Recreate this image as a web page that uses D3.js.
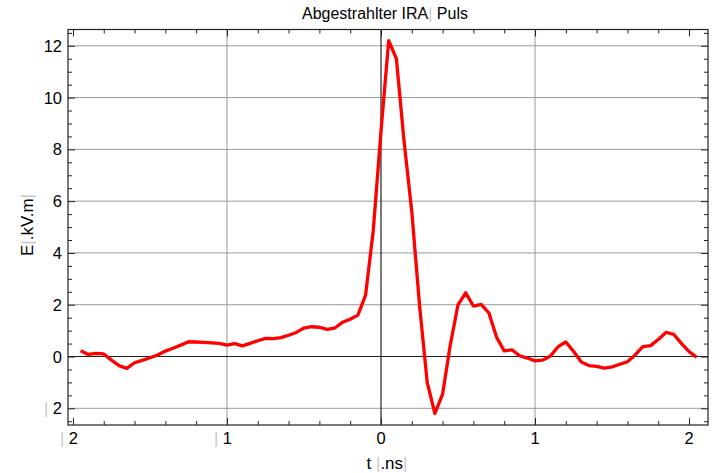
<!DOCTYPE html>
<html>
<head>
<meta charset="utf-8">
<script src="https://cdn.jsdelivr.net/npm/d3@7"></script>
<style>
  body { margin: 0; background: #fff; }
  svg text { font-family: "Liberation Sans", Arial, sans-serif; }
</style>
</head>
<body>
<svg id="chart" width="713" height="473"></svg>
<script>
// pulse samples, 0.05 ns apart
const times = [-1.95, -1.9, -1.85, -1.8, -1.75, -1.7, -1.65, -1.6, -1.55, -1.5,
  -1.45, -1.4, -1.35, -1.3, -1.25, -1.2, -1.15, -1.1, -1.05, -1.0,
  -0.95, -0.9, -0.85, -0.8, -0.75, -0.7, -0.65, -0.6, -0.55, -0.5,
  -0.45, -0.4, -0.35, -0.3, -0.25, -0.2, -0.15, -0.1, -0.05, 0.0,
  0.05, 0.1, 0.15, 0.2, 0.25, 0.3, 0.35, 0.4, 0.45, 0.5,
  0.55, 0.6, 0.65, 0.7, 0.75, 0.8, 0.85, 0.9, 0.95, 1.0,
  1.05, 1.1, 1.15, 1.2, 1.25, 1.3, 1.35, 1.4, 1.45, 1.5,
  1.55, 1.6, 1.65, 1.7, 1.75, 1.8, 1.85, 1.9, 1.95, 2.0, 2.05];
const field = [0.22, 0.08, 0.12, 0.10, -0.14, -0.35, -0.46, -0.24, -0.15, -0.05,
  0.06, 0.21, 0.32, 0.44, 0.57, 0.56, 0.55, 0.53, 0.51, 0.44,
  0.50, 0.41, 0.51, 0.61, 0.70, 0.69, 0.73, 0.82, 0.93, 1.10,
  1.15, 1.13, 1.05, 1.10, 1.32, 1.44, 1.60, 2.37, 4.88, 8.7,
  12.2, 11.5, 8.3, 5.6, 2.0, -1.0, -2.2, -1.45, 0.45, 2.0,
  2.46, 1.95, 2.01, 1.69, 0.75, 0.22, 0.26, 0.03, -0.06, -0.17,
  -0.14, 0.02, 0.38, 0.56, 0.2, -0.21, -0.35, -0.38, -0.45, -0.4,
  -0.3, -0.2, 0.06, 0.38, 0.42, 0.66, 0.93, 0.86, 0.51, 0.19, -0.03];

const xTicks = [-2, -1, 0, 1, 2];
const yTicks = [-2, 0, 2, 4, 6, 8, 10, 12];
const xGrid = [-1, 1];
const yGrid = [-2, 2, 4, 6, 8, 10, 12];

const svg = d3.select("#chart");
const fL = 68, fR = 708, fT = 29.5, fB = 425;

const x = d3.scaleLinear().domain([-2.032, 2.123]).range([fL, fR]);
const y = d3.scaleLinear().domain([-2.645, 12.63]).range([fB, fT]);

// gray bar stands in for the glyphs that did not render
function label(sel, parts) {
  parts.forEach(p => {
    sel.append("tspan").text(p[0]).attr("fill", p[1] ? "#c8c8c8" : "#000");
  });
}

// grid
svg.append("g").selectAll("line").data(xGrid).enter().append("line")
  .attr("x1", d => x(d)).attr("x2", d => x(d))
  .attr("y1", fT).attr("y2", fB)
  .attr("stroke", "#999").attr("stroke-width", 1);
svg.append("g").selectAll("line").data(yGrid).enter().append("line")
  .attr("x1", fL).attr("x2", fR)
  .attr("y1", d => y(d)).attr("y2", d => y(d))
  .attr("stroke", "#999").attr("stroke-width", 1);

// zero axes
svg.append("line").attr("x1", x(0)).attr("x2", x(0)).attr("y1", fT).attr("y2", fB)
  .attr("stroke", "#222").attr("stroke-width", 1.2);
svg.append("line").attr("x1", fL).attr("x2", fR).attr("y1", y(0)).attr("y2", y(0))
  .attr("stroke", "#222").attr("stroke-width", 1.2);

// frame ticks on all sides
const xMinor = d3.range(-2, 2.13, 0.2).filter(v => Math.abs(v - Math.round(v)) > 0.01);
const yMinor = d3.range(-2.5, 12.6, 0.5).filter(v => Math.abs(v / 2 - Math.round(v / 2)) > 0.01);

svg.append("g").attr("transform", `translate(0,${fB})`)
  .call(d3.axisTop(x).tickValues(xMinor).tickSize(4).tickFormat(""));
svg.append("g").attr("transform", `translate(0,${fB})`)
  .call(d3.axisTop(x).tickValues(xTicks).tickSize(7).tickFormat(""));
svg.append("g").attr("transform", `translate(0,${fT})`)
  .call(d3.axisBottom(x).tickValues(xMinor).tickSize(4).tickFormat(""));
svg.append("g").attr("transform", `translate(0,${fT})`)
  .call(d3.axisBottom(x).tickValues(xTicks).tickSize(7).tickFormat(""));
svg.append("g").attr("transform", `translate(${fL},0)`)
  .call(d3.axisRight(y).tickValues(yMinor).tickSize(4).tickFormat(""));
svg.append("g").attr("transform", `translate(${fL},0)`)
  .call(d3.axisRight(y).tickValues(yTicks).tickSize(7).tickFormat(""));
svg.append("g").attr("transform", `translate(${fR},0)`)
  .call(d3.axisLeft(y).tickValues(yMinor).tickSize(4).tickFormat(""));
svg.append("g").attr("transform", `translate(${fR},0)`)
  .call(d3.axisLeft(y).tickValues(yTicks).tickSize(7).tickFormat(""));
svg.selectAll(".domain").remove();
svg.selectAll(".tick line").attr("stroke", "#222");

// frame
svg.append("rect").attr("x", fL).attr("y", fT)
  .attr("width", fR - fL).attr("height", fB - fT)
  .attr("fill", "none").attr("stroke", "#222").attr("stroke-width", 1.2);

// tick labels
svg.append("g").selectAll("text").data(xTicks).enter().append("text")
  .attr("x", d => x(d) + (d < 0 ? -4 : 0)).attr("y", fB + 19)
  .attr("text-anchor", "middle").attr("font-size", "16.5px")
  .each(function(d) {
    label(d3.select(this), d < 0 ? [["| ", true], [String(-d), false]] : [[String(d), false]]);
  });
svg.append("g").selectAll("text").data(yTicks).enter().append("text")
  .attr("x", fL - 6).attr("y", d => y(d) + 6)
  .attr("text-anchor", "end").attr("font-size", "16.5px")
  .each(function(d) {
    label(d3.select(this), d < 0 ? [["| ", true], [String(-d), false]] : [[String(d), false]]);
  });

// the pulse
const pts = times.map((t, i) => [t, field[i]]);
svg.append("path").datum(pts)
  .attr("d", d3.line().x(d => x(d[0])).y(d => y(d[1])))
  .attr("fill", "none").attr("stroke", "#ff0000")
  .attr("stroke-width", 3.3).attr("stroke-linejoin", "round");

// title and axis labels
const title = svg.append("text").attr("x", 385).attr("y", 19)
  .attr("text-anchor", "middle").attr("font-size", "16px");
label(title, [["Abgestrahlter IRA", false], ["|", true], [" Puls", false]]);

const xl = svg.append("text").attr("x", 387).attr("y", 469)
  .attr("text-anchor", "middle").attr("font-size", "17px");
label(xl, [["t ", false], ["|", true], [".", false], ["ns", false], ["|", true]]);

const yl = svg.append("text").attr("transform", "translate(33,225) rotate(-90)")
  .attr("text-anchor", "middle").attr("font-size", "17px");
label(yl, [["E", false], ["|", true], [".", false], ["kV", false], [".", false], ["m", false], ["|", true]]);
</script>
</body>
</html>
